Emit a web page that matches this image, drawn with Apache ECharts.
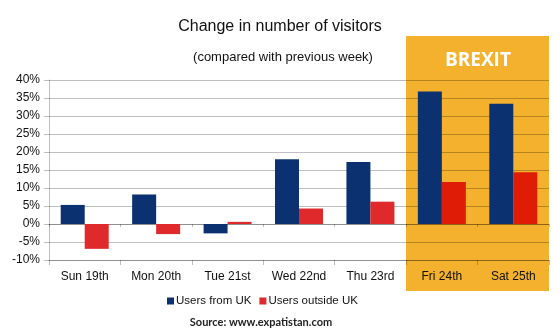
<!DOCTYPE html>
<html><head><meta charset="utf-8">
<script src="https://cdn.jsdelivr.net/npm/echarts@6/dist/echarts.min.js"></script>
<style>html,body{margin:0;padding:0;background:#fff}#c{width:560px;height:336px}</style>
</head><body><div id="c"></div>
<script>
const categories = ['Sun 19th','Mon 20th','Tue 21st','Wed 22nd','Thu 23rd','Fri 24th','Sat 25th'];
const usersFromUK = [5.3, 8.2, -2.6, 18.0, 17.2, 36.8, 33.4];
const usersOutsideUK = [-6.9, -2.8, 0.6, 4.3, 6.2, 11.7, 14.4];
const highlighted = ['Fri 24th','Sat 25th'];
const yTicks = [-10, 40, 5];

const chart = echarts.init(document.getElementById('c'), null, {renderer:'canvas'});
const font = '"Liberation Sans", Arial, sans-serif';
const redOut = '#e0292b', redIn = '#df1c06';
const option = {
  animation:false,
  textStyle:{fontFamily:font},
  title:[
    {text:'Change in number of visitors', left:275, top:14, textAlign:'center',
     textStyle:{fontSize:16, fontWeight:'normal', color:'#111', fontFamily:font}},
    {text:'(compared with previous week)', left:278, top:46, textAlign:'center',
     textStyle:{fontSize:13, fontWeight:'normal', color:'#111', fontFamily:font}},
    {text:'Source: www.expatistan.com', left:256, top:312, textAlign:'center',
     textStyle:{fontSize:11, fontWeight:'bold', color:'#222', fontFamily:'Lato, "Open Sans", sans-serif'}}
  ],
  graphic:[
    {type:'rect', z:-10, shape:{x:406, y:36, width:143, height:255}, style:{fill:'#f3b12d'}},
    {type:'text', z:5, left:477-32, top:51, style:{text:'BREXIT', fill:'#fff', font:'bold 19px "Open Sans", sans-serif'}}
  ],
  grid:{left:49, right:11, top:80, bottom:76},
  legend:{
    data:['Users from UK','Users outside UK'], left:162, top:290,
    itemWidth:7, itemHeight:7, itemGap:8, icon:'rect',
    textStyle:{fontSize:11.5, color:'#111', fontFamily:font, padding:[0,0,0,-3]}
  },
  xAxis:[
    {type:'category', data:categories, position:'bottom',
     axisLine:{onZero:false, lineStyle:{color:'rgba(0,0,0,0.25)'}},
     axisTick:{show:true, length:5, lineStyle:{color:'rgba(0,0,0,0.25)'}},
     axisLabel:{color:'#111', fontSize:12, margin:11, fontFamily:font}},
    {type:'category', data:categories, position:'bottom',
     axisLine:{onZero:true, lineStyle:{color:'rgba(0,0,0,0.25)'}},
     axisTick:{show:true, length:3, lineStyle:{color:'rgba(0,0,0,0.25)'}},
     axisLabel:{show:false}}
  ],
  yAxis:{type:'value', min:yTicks[0], max:yTicks[1], interval:yTicks[2],
    axisLine:{show:true, lineStyle:{color:'rgba(0,0,0,0.25)'}},
    axisTick:{show:true, length:5, lineStyle:{color:'rgba(0,0,0,0.25)'}},
    splitLine:{lineStyle:{color:'rgba(0,0,0,0.25)'}},
    axisLabel:{formatter:'{value}%', color:'#111', fontSize:12, margin:9, fontFamily:font}},
  series:[
    {name:'Users from UK', type:'bar', xAxisIndex:0, data:usersFromUK, barWidth:24, barGap:'0%',
     itemStyle:{color:'#0b3170'}},
    {name:'Users outside UK', type:'bar', xAxisIndex:0, barWidth:24,
     data:usersOutsideUK.map((v,i)=>({value:v, itemStyle:{color: highlighted.includes(categories[i]) ? redIn : redOut}})),
     itemStyle:{color:redOut}}
  ]
};
chart.setOption(option);
</script></body></html>
